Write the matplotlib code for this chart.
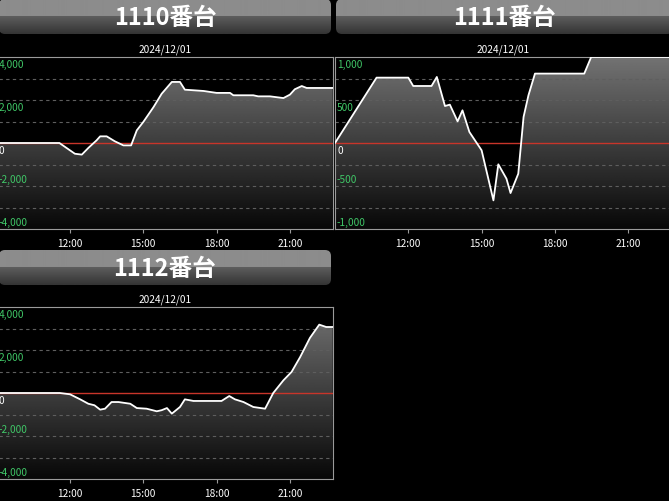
import numpy as np
import matplotlib
matplotlib.use("Agg")
import matplotlib.pyplot as plt
from matplotlib.patches import FancyBboxPatch
from matplotlib.transforms import offset_copy

plt.rcParams['font.family'] = ['Noto Sans CJK JP', 'DejaVu Sans']

W, H = 669, 502
DATE = "2024/12/01"

# 1110番台
t_1110 = ["9:00", "11:34", "12:12", "12:29", "12:45", "13:05", "13:14", "13:30", "13:50",
          "14:11", "14:30", "14:44", "15:00", "15:25", "15:45", "16:10", "16:30", "16:42",
          "17:28", "18:00", "18:33", "18:41", "19:30", "19:42", "20:11", "20:44", "21:00",
          "21:12", "21:29", "21:41", "22:45"]
v_1110 = [0, 0, -500, -540, -230, 120, 310, 310, 80,
          -110, -110, 590, 980, 1670, 2290, 2840, 2840, 2480,
          2420, 2330, 2330, 2220, 2220, 2170, 2170, 2090, 2250,
          2500, 2650, 2560, 2560]

# 1111番台
t_1111 = ["9:00", "10:42", "12:00", "12:12", "12:57", "13:10", "13:30", "13:42", "14:01",
          "14:13", "14:30", "15:00", "15:29", "15:41", "16:01", "16:11", "16:30", "16:43",
          "16:55", "17:11", "19:12", "19:29", "22:45"]
v_1111 = [0, 760, 760, 663, 663, 768, 430, 446, 252,
          380, 128, -85, -667, -248, -415, -582, -357, 303,
          555, 807, 807, 1000, 1000]

# 1112番台
t_1112 = ["9:00", "11:35", "12:00", "12:25", "12:45", "13:00", "13:14", "13:26", "13:42",
          "13:59", "14:28", "14:44", "15:08", "15:33", "15:45", "15:58", "16:10", "16:30",
          "16:42", "17:03", "18:12", "18:31", "18:45", "19:06", "19:30", "19:59", "20:19",
          "20:44", "21:04", "21:25", "21:49", "22:12", "22:29", "22:45"]
v_1112 = [0, 0, -60, -295, -500, -570, -775, -730, -420,
          -420, -500, -700, -730, -850, -800, -700, -960, -650,
          -295, -370, -370, -140, -295, -420, -650, -730, 0,
          590, 980, 1670, 2560, 3180, 3070, 3070]

xticks = [12, 15, 18, 21]
xtick_labels = ["12:00", "15:00", "18:00", "21:00"]
X0, X1 = 9.0, 22.75
FS = 7.3


def hrs(ts):
    return [int(s.split(':')[0]) + int(s.split(':')[1]) / 60 for s in ts]


fig = plt.figure(figsize=(W / 100, H / 100), dpi=100, facecolor='black')


def px_axes(x, y, w, h):
    return fig.add_axes([x / W, 1 - (y + h) / H, w / W, h / H])


def banner(x, y, w, h, text):
    ax = px_axes(x, y, w, h)
    ax.set_xlim(0, w)
    ax.set_ylim(h, 0)
    ax.axis('off')
    rows = np.arange(h)
    col = np.where(rows < h * 0.47, 0.55, 0.37 - (rows - h * 0.47) / (h * 0.53) * 0.17)
    im = ax.imshow(col.reshape(-1, 1), cmap='gray', vmin=0, vmax=1,
                   extent=(0, w, h, 0), aspect='auto', interpolation='bilinear')
    box = FancyBboxPatch((0, 0), w, h, boxstyle='round,pad=0,rounding_size=6',
                         facecolor='none', edgecolor='none', transform=ax.transData)
    ax.add_patch(box)
    im.set_clip_path(box)
    ax.text(w / 2, h / 2 + 0.5, text, ha='center', va='center', color='white',
            fontsize=17, fontweight='bold')


def panel(x, y, times, vals, lim, step, label_step):
    ax = px_axes(x, y, 336, 172)
    ax.set_facecolor('black')
    hx = hrs(times)
    ax.set_xlim(X0, X1)
    ax.set_ylim(-lim, lim)

    grad = np.linspace(0.45, 0.03, 256).reshape(-1, 1)
    im = ax.imshow(grad, cmap='gray', vmin=0, vmax=1, extent=(X0, X1, -lim, lim),
                   aspect='auto', origin='upper', zorder=1)
    poly = ax.fill_between(hx, vals, -lim, facecolor='none', edgecolor='none')
    im.set_clip_path(poly.get_paths()[0], ax.transData)

    for v in np.arange(-lim + step, lim, step):
        if v != 0:
            ax.axhline(v, color='#5e5e5e', lw=0.8, ls=(0, (3, 3)), zorder=2)
    ax.axhline(0, color='#c8352a', lw=1.0, zorder=3)
    ax.plot(hx, vals, color='white', lw=1.3, zorder=4)

    for v in range(-lim, lim + 1, label_step):
        if v >= 0:
            tr = offset_copy(ax.get_yaxis_transform(), fig=fig, x=2, y=-2, units='dots')
            va = 'top'
        else:
            tr = offset_copy(ax.get_yaxis_transform(), fig=fig, x=2, y=2, units='dots')
            va = 'bottom'
        ax.text(0, v, f"{v:,}", transform=tr, va=va, ha='left', fontsize=FS,
                color='white' if v == 0 else '#40c868', zorder=5)

    ax.set_yticks([])
    ax.set_xticks(xticks, xtick_labels)
    ax.tick_params(axis='x', colors='#9a9a9a', labelcolor='white', length=3,
                   width=0.8, labelsize=FS, pad=3.5)
    for s in ax.spines.values():
        s.set_color('#9a9a9a')
        s.set_linewidth(0.8)
    ax.set_title(DATE, color='white', fontsize=FS, pad=4)
    return ax


banner(-1, 0, 332, 35, "1110番台")
banner(336, 0, 337, 35, "1111番台")
banner(-1, 251, 332, 35, "1112番台")

panel(-3.3, 58, t_1110, v_1110, 4000, 1000, 2000)
panel(335, 58, t_1111, v_1111, 1000, 250, 500)
panel(-3.3, 308, t_1112, v_1112, 4000, 1000, 2000)

fig.savefig("out.png", dpi=100, facecolor='black')
